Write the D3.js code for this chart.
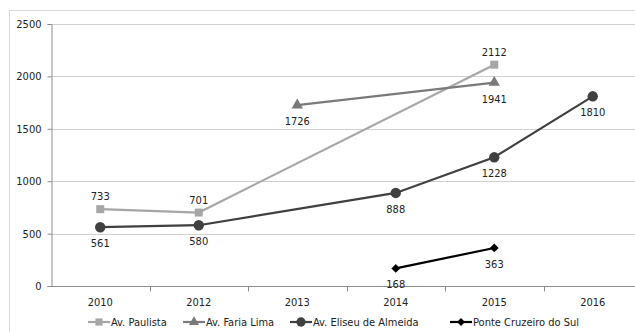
<!DOCTYPE html>
<html>
<head>
<meta charset="utf-8">
<script src="https://cdn.jsdelivr.net/npm/d3@7"></script>
<style>
  html, body { margin: 0; padding: 0; background: #fff; }
  svg { display: block; font-family: "Liberation Sans Narrow", "DejaVu Sans Condensed", "Liberation Sans", sans-serif; }
</style>
</head>
<body>
<svg id="chart" width="635" height="332"></svg>
<script>
// Years on the category axis
const years = ["2010", "2012", "2013", "2014", "2015", "2016"];
// Counts per avenue (null = no measurement that year)
const paulista   = [733, 701, null, null, 2112, null];
const fariaLima  = [null, null, 1726, null, 1941, null];
const eliseu     = [561, 580, null, 888, 1228, 1810];
const ponte      = [null, null, null, 168, 363, null];
const yTicks     = [0, 500, 1000, 1500, 2000, 2500];

const seriesList = [
  { name: "Av. Paulista",         values: paulista,  color: "#a6a6a6", symbol: d3.symbolSquare,   size: 64, rot: 0,  labelPos: "above" },
  { name: "Av. Faria Lima",       values: fariaLima, color: "#7a7a7a", symbol: d3.symbolTriangle, size: 56, rot: 0,  labelPos: "below" },
  { name: "Av. Eliseu de Almeida",values: eliseu,    color: "#404040", symbol: d3.symbolCircle,   size: 85, rot: 0,  labelPos: "below" },
  { name: "Ponte Cruzeiro do Sul",values: ponte,     color: "#000000", symbol: d3.symbolSquare,   size: 38, rot: 45, labelPos: "below" }
];

const svg = d3.select("#chart");

// Outer chart frame
svg.append("rect")
  .attr("x", 9.5).attr("y", 10.5)
  .attr("width", 700).attr("height", 400)
  .attr("fill", "none").attr("stroke", "#d9d9d9");

const plotLeft = 51, plotTop = 24, plotBottom = 286;
const x = d3.scaleBand().domain(years).range([plotLeft, plotLeft + 6 * 98.5]).paddingInner(0).paddingOuter(0);
const y = d3.scaleLinear().domain([0, 2500]).range([plotBottom, plotTop]);
const cx = yr => x(yr) + x.bandwidth() / 2;

// Horizontal gridlines
svg.append("g").selectAll("line").data(yTicks.filter(t => t > 0)).join("line")
  .attr("x1", plotLeft).attr("x2", 700)
  .attr("y1", d => Math.round(y(d)) + 0.5).attr("y2", d => Math.round(y(d)) + 0.5)
  .attr("stroke", "#d0d0d0").attr("stroke-width", 1);

// Y axis
const yAxis = svg.append("g").attr("transform", `translate(${plotLeft + 0.5},0)`)
  .call(d3.axisLeft(y).tickValues(yTicks).tickSize(4).tickPadding(6).tickFormat(d3.format("d")));
yAxis.select(".domain").attr("stroke", "#8c8c8c");
yAxis.selectAll(".tick line").attr("stroke", "#8c8c8c");
yAxis.selectAll("text").attr("font-size", 11).attr("fill", "#222")
  .attr("font-family", "\"Liberation Sans Narrow\", \"DejaVu Sans Condensed\", sans-serif");

// X axis: baseline, boundary ticks, centred labels
const xg = svg.append("g").attr("transform", `translate(0,${Math.round(plotBottom) + 0.5})`);
xg.append("line").attr("x1", plotLeft).attr("x2", 700).attr("stroke", "#8c8c8c");
xg.selectAll("line.tk").data(years.slice(1)).join("line").attr("class", "tk")
  .attr("x1", d => Math.round(x(d)) + 0.5).attr("x2", d => Math.round(x(d)) + 0.5)
  .attr("y1", 0).attr("y2", 5).attr("stroke", "#8c8c8c");
xg.selectAll("text").data(years).join("text")
  .attr("x", d => cx(d)).attr("y", 19)
  .attr("text-anchor", "middle").attr("font-size", 11).attr("fill", "#222")
  .text(d => d);

// Series lines, markers and value labels
seriesList.forEach(s => {
  const pts = years.map((yr, i) => ({ yr, v: s.values[i] })).filter(p => p.v !== null);
  const line = d3.line().x(p => cx(p.yr)).y(p => y(p.v));
  svg.append("path").datum(pts)
    .attr("d", line).attr("fill", "none")
    .attr("stroke", s.color).attr("stroke-width", 2.2);
  svg.append("g").selectAll("path").data(pts).join("path")
    .attr("transform", p => `translate(${cx(p.yr)},${y(p.v)}) rotate(${s.rot})`)
    .attr("d", d3.symbol().type(s.symbol).size(s.size))
    .attr("fill", s.color);
  svg.append("g").selectAll("text").data(pts).join("text")
    .attr("x", p => cx(p.yr))
    .attr("y", p => s.labelPos === "above" ? y(p.v) - 9 : y(p.v) + 20)
    .attr("text-anchor", "middle").attr("font-size", 11).attr("fill", "#222")
    .attr("font-family", "\"DejaVu Sans Condensed\", sans-serif")
    .text(p => p.v);
});

// Legend
const legendX = [88, 183, 290, 450];
const lg = svg.append("g").attr("transform", "translate(0,322)");
seriesList.forEach((s, i) => {
  const g = lg.append("g").attr("transform", `translate(${legendX[i]},0)`);
  g.append("line").attr("x1", 0).attr("x2", 22).attr("stroke", s.color).attr("stroke-width", 2.2);
  g.append("path").attr("transform", `translate(11,0) rotate(${s.rot})`)
    .attr("d", d3.symbol().type(s.symbol).size(s.size * 0.8)).attr("fill", s.color);
  g.append("text").attr("x", 23).attr("y", 4)
    .attr("font-size", 11).attr("fill", "#222").text(s.name);
});
</script>
</body>
</html>
